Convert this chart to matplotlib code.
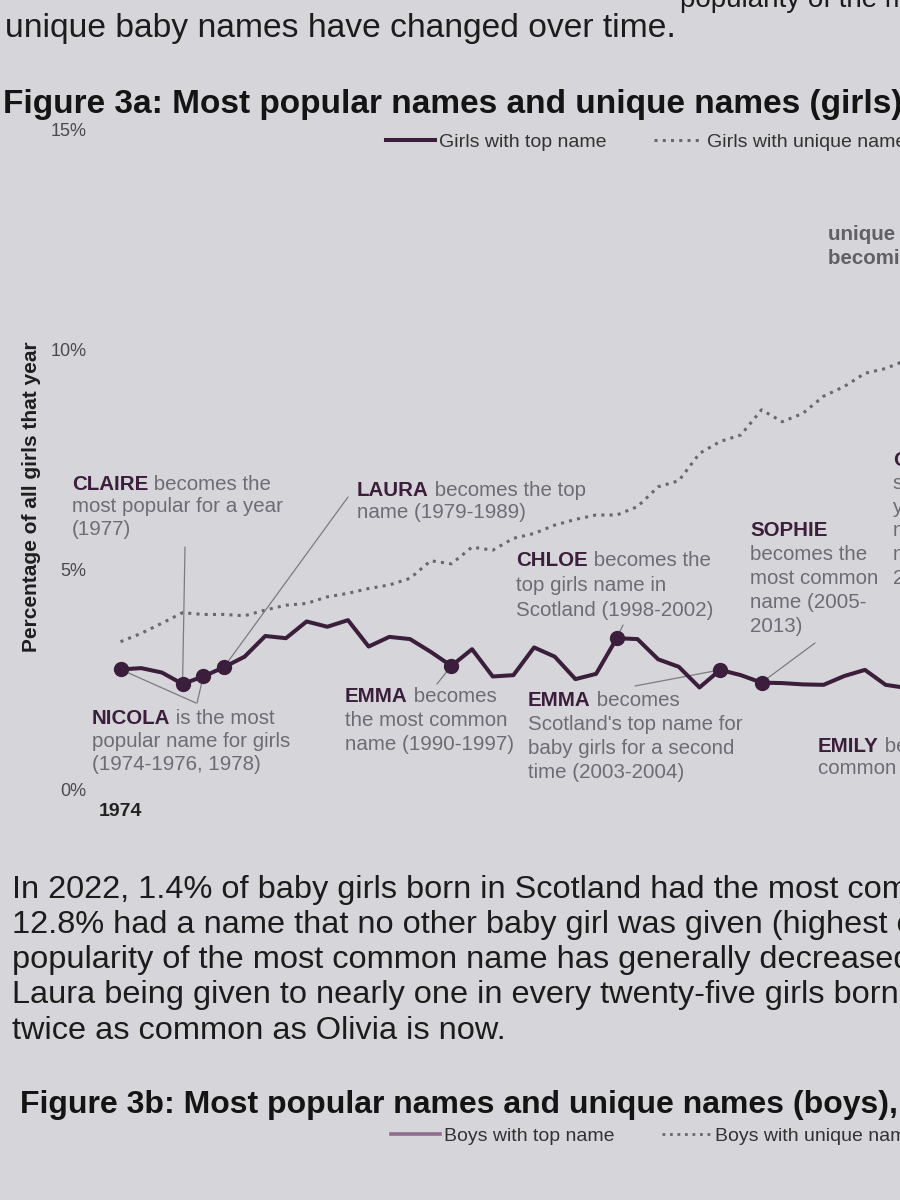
import matplotlib
matplotlib.use("Agg")
import matplotlib.pyplot as plt
from matplotlib.lines import Line2D

plt.rcParams['font.family'] = ['Liberation Sans', 'DejaVu Sans']

W, H = 900, 1200
BG = '#d6d6da'
PURPLE = '#3b1d3c'
GREY_TXT = '#6c6c72'
DOT_C = '#68686e'

# values (% of all girls born that year)
years = list(range(1974, 2013))
top_name_pct = [2.74, 2.77, 2.67, 2.41, 2.58, 2.79, 3.03, 3.50, 3.45, 3.83,
                3.71, 3.86, 3.26, 3.48, 3.43, 3.14, 2.82, 3.20, 2.58, 2.61,
                3.24, 3.03, 2.52, 2.64, 3.45, 3.43, 2.97, 2.80, 2.33, 2.73,
                2.61, 2.44, 2.43, 2.40, 2.39, 2.59, 2.73, 2.39, 2.32]
unique_name_pct = [3.37, 3.56, 3.79, 4.03, 3.99, 3.99, 3.96, 4.09, 4.20, 4.24,
                   4.39, 4.47, 4.58, 4.66, 4.81, 5.21, 5.14, 5.52, 5.45, 5.72,
                   5.83, 6.02, 6.15, 6.25, 6.25, 6.44, 6.89, 7.03, 7.65, 7.92,
                   8.07, 8.64, 8.37, 8.56, 8.95, 9.17, 9.47, 9.58, 9.77]
# years where a new name takes the top spot
change_years = [1974, 1977, 1978, 1979, 1990, 1998, 2003, 2005]
ytick_vals = [0, 5, 10, 15]
ytick_labels = ['0%', '5%', '10%', '15%']


def fx(x):
    return x / W


def fy(y):
    return 1 - y / H


fig = plt.figure(figsize=(9, 12), dpi=100, facecolor=BG)

# surrounding document text (the photo is cropped on every side)
fig.text(fx(680), fy(0), 'popularity of the most common and', size=20,
         color='#1c1c1c', va='center', ha='left')
fig.text(fx(5), fy(28), 'unique baby names have changed over time.', size=24.2,
         color='#1c1c1c', va='center', ha='left')
fig.text(fx(3), fy(104), 'Figure 3a: Most popular names and unique names (girls), 1974-2022',
         size=24, weight='bold', color='#141414', va='center', ha='left')

body = ['In 2022, 1.4% of baby girls born in Scotland had the most common name, while',
        '12.8% had a name that no other baby girl was given (highest ever). The',
        'popularity of the most common name has generally decreased over time, with',
        'Laura being given to nearly one in every twenty-five girls born in 1985, almost',
        'twice as common as Olivia is now.']
body_y = [890, 925, 960, 995, 1031]
for line, y in zip(body, body_y):
    fig.text(fx(12), fy(y), line, size=23.4, color='#1c1c1c', va='center', ha='left')

fig.text(fx(20), fy(1105), 'Figure 3b: Most popular names and unique names (boys), 1974-2022',
         size=23, weight='bold', color='#141414', va='center', ha='left')

# chart
ax = fig.add_axes([fx(89.5), (H - 790) / H, 1189 / W, 660 / H])
ax.set_facecolor('none')
ax.set_xlim(1972.5, 2030)
ax.set_ylim(0, 15)
for s in ax.spines.values():
    s.set_visible(False)

l_top, = ax.plot(years, top_name_pct, color=PURPLE, lw=2.9, label='Girls with top name', zorder=4)
l_uni, = ax.plot(years, unique_name_pct, color=DOT_C, lw=2.2, ls=(0, (1, 1.7)),
                 label='Girls with unique names', zorder=3)
ax.plot(change_years, [top_name_pct[years.index(y)] for y in change_years], 'o',
        ms=10, color=PURPLE, zorder=5)

ax.set_yticks(ytick_vals)
ax.set_yticklabels(ytick_labels)
ax.set_xticks([1974])
ax.set_xticklabels(['1974'], weight='bold')
ax.tick_params(axis='y', length=0, pad=2, labelsize=13, labelcolor='#4a4a4e')
ax.tick_params(axis='x', length=0, pad=9, labelsize=14, labelcolor='#222222')
ax.set_ylabel('Percentage of all girls that year', weight='bold', size=15,
              color='#1e1e1e', va='center')
ax.yaxis.set_label_coords((32 - 89.5) / 1189, (790 - 497) / 660)

ax.legend(handles=[l_top, l_uni], loc='center left', ncol=2, frameon=False,
          bbox_to_anchor=(fx(386), fy(142)), bbox_transform=fig.transFigure,
          fontsize=14, labelcolor='#333333', handlelength=2.5, handletextpad=0.25,
          columnspacing=2.4, borderpad=0, borderaxespad=0)

fig.legend(handles=[Line2D([], [], color='#8e6c8b', lw=2.6),
                    Line2D([], [], color=DOT_C, lw=2.0, ls=(0, (1, 1.7)))],
           labels=['Boys with top name', 'Boys with unique names'],
           loc='center left', ncol=2, frameon=False,
           bbox_to_anchor=(fx(391), fy(1136)), fontsize=14, labelcolor='#333333',
           handlelength=2.5, handletextpad=0.25, columnspacing=2.4,
           borderpad=0, borderaxespad=0)

# leader lines from notes to the change points
leaders = [(1977, 185, 547), (1979, 348, 497), (1974, 196, 703), (1978, 197, 703),
           (1990, 437, 684), (1998, 623, 625), (2003, 635, 686), (2005, 815, 643)]
for yr, tx, ty in leaders:
    ax.annotate('', xy=(yr, top_name_pct[years.index(yr)]), xytext=(tx, H - ty),
                textcoords='figure pixels', annotation_clip=False,
                arrowprops=dict(arrowstyle='-', color='#7c7c80', lw=0.9,
                                shrinkA=0, shrinkB=0))

FS = 14.8


def note(x, y, name, rest, lines, sp):
    t1 = fig.text(fx(x), fy(y), name, size=FS, weight='bold', color=PURPLE,
                  va='center', ha='left')
    if rest:
        ax.annotate(rest, xy=(1, 0), xycoords=t1, va='bottom', ha='left',
                    size=FS, color=GREY_TXT, annotation_clip=False)
    for i, line in enumerate(lines):
        fig.text(fx(x), fy(y + sp * (i + 1)), line, size=FS, color=GREY_TXT,
                 va='center', ha='left')


note(72, 484, 'CLAIRE', ' becomes the', ['most popular for a year', '(1977)'], 22.5)
note(357, 490, 'LAURA', ' becomes the top', ['name (1979-1989)'], 22)
note(516, 561, 'CHLOE', ' becomes the', ['top girls name in', 'Scotland (1998-2002)'], 24.5)
note(750, 531, 'SOPHIE', '', ['becomes the', 'most common', 'name (2005-', '2013)'], 24)
note(92, 718, 'NICOLA', ' is the most', ['popular name for girls', '(1974-1976, 1978)'], 23.5)
note(345, 696, 'EMMA', ' becomes', ['the most common', 'name (1990-1997)'], 24)
note(528, 700, 'EMMA', ' becomes', ["Scotland's top name for", 'baby girls for a second',
                                    'time (2003-2004)'], 24)
note(818, 746, 'EMILY', ' becomes the most', ['common name (2014-2016)'], 23)
note(893, 460, 'OLIVIA', ' has', ['stayed the top', 'year on year,', 'number one',
                                  'name since', '2017'], 23.6)

fig.text(fx(828), fy(234), 'unique names are', size=FS, weight='bold', color='#606065',
         va='center', ha='left')
fig.text(fx(828), fy(258), 'becoming more common', size=FS, weight='bold', color='#606065',
         va='center', ha='left')

fig.savefig('out.png', dpi=100, facecolor=BG)
